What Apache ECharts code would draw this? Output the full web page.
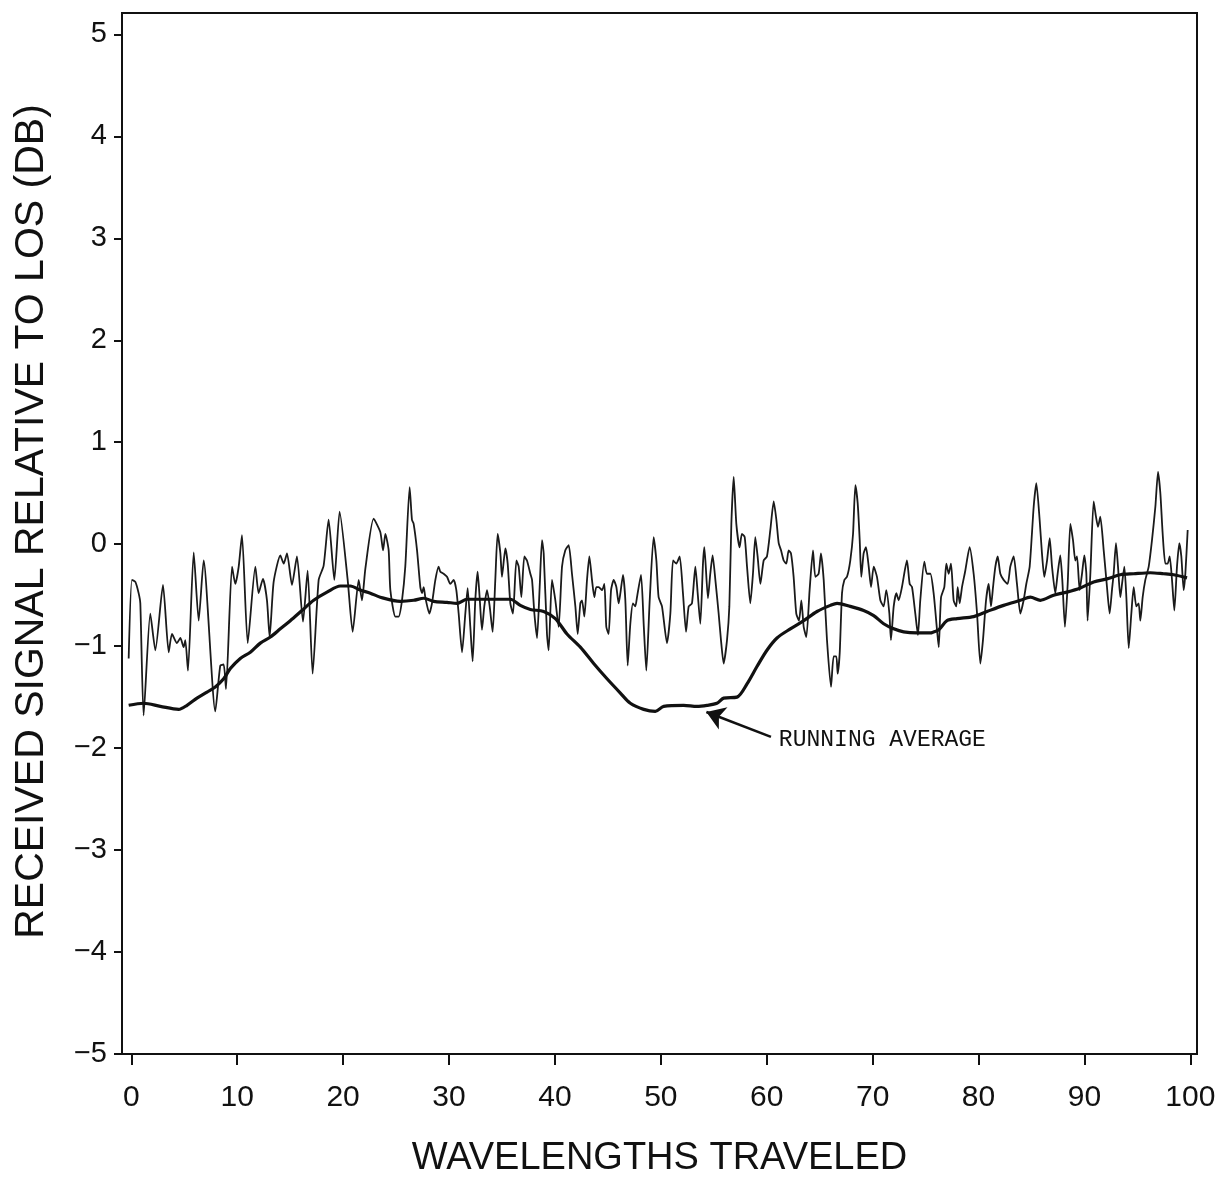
<!DOCTYPE html>
<html>
<head>
<meta charset="utf-8">
<script src="https://cdn.jsdelivr.net/npm/echarts@6/dist/echarts.min.js"></script>
<style>
  html, body { margin: 0; padding: 0; background: #fff; }
  #chart { width: 1226px; height: 1190px; }
</style>
</head>
<body>
<div id="chart"></div>
<script>
// Tick positions on both axes
const xTicks = [0, 10, 20, 30, 40, 50, 60, 70, 80, 90, 100];
const yTicks = [-5, -4, -3, -2, -1, 0, 1, 2, 3, 4, 5];

// Received signal trace (wavelengths traveled, dB relative to LOS)
const traceX = [
  -0.25, 0.06, 0.38, 0.69, 0.85, 1.16, 1.79, 2.27, 2.99, 3.53, 3.84, 4.31, 4.63, 4.94, 5.10, 5.35,
  5.89, 6.36, 6.83, 7.93, 8.40, 8.72, 8.94, 9.51, 9.82, 10.14, 10.45, 10.99, 11.71, 12.02, 12.43,
  12.81, 13.06, 13.44, 14.07, 14.39, 14.70, 15.17, 15.64, 16.21, 16.65, 17.12, 17.69, 18.16, 18.63,
  19.17, 19.67, 20.43, 20.90, 21.47, 21.78, 22.10, 22.88, 23.51, 23.77, 23.99, 24.30, 24.46, 24.93,
  25.24, 25.56, 25.87, 26.28, 26.50, 26.66, 26.98, 27.29, 27.45, 27.61, 27.76, 28.14, 28.39, 28.71,
  29.02, 29.18, 29.49, 29.81, 30.12, 30.44, 30.69, 30.91, 31.23, 31.54, 31.76, 32.01, 32.23, 32.48,
  32.70, 32.89, 33.11, 33.33, 33.59, 33.84, 34.12, 34.37, 34.59, 34.85, 35.00, 35.32, 35.54, 35.79,
  36.04, 36.36, 36.58, 36.83, 37.11, 37.36, 37.68, 37.84, 38.06, 38.31, 38.56, 38.78, 38.94, 39.25,
  39.41, 39.72, 40.04, 40.35, 40.67, 40.98, 41.30, 41.61, 41.93, 42.15, 42.40, 42.56, 42.78, 43.03,
  43.25, 43.50, 43.72, 43.91, 44.13, 44.45, 44.67, 44.85, 45.07, 45.30, 45.55, 45.80, 46.02, 46.18,
  46.43, 46.65, 46.87, 47.12, 47.37, 47.59, 47.75, 48.13, 48.38, 48.63, 48.95, 49.32, 49.58, 49.79,
  50.11, 50.58, 50.90, 51.15, 51.46, 51.78, 52.09, 52.38, 52.63, 52.94, 53.26, 53.48, 53.73, 53.98,
  54.11, 54.45, 54.67, 54.89, 55.15, 55.46, 55.68, 55.93, 56.25, 56.47, 56.66, 56.88, 57.13, 57.44,
  57.66, 57.92, 58.14, 58.45, 58.70, 58.92, 59.14, 59.40, 59.71, 60.02, 60.34, 60.66, 60.91, 61.13,
  61.35, 61.60, 61.85, 62.07, 62.29, 62.54, 62.79, 63.05, 63.27, 63.49, 63.74, 64.05, 64.37, 64.59,
  64.90, 65.12, 65.38, 65.69, 66.07, 66.32, 66.57, 66.70, 66.89, 67.11, 67.33, 67.58, 67.89, 68.15,
  68.37, 68.59, 68.78, 68.93, 69.15, 69.37, 69.63, 69.85, 70.10, 70.41, 70.73, 71.04, 71.29, 71.58,
  71.73, 71.99, 72.24, 72.46, 72.77, 73.24, 73.50, 73.72, 74.03, 74.28, 74.50, 74.88, 75.13, 75.45,
  75.76, 76.08, 76.24, 76.46, 76.77, 76.96, 77.18, 77.40, 77.65, 77.90, 78.03, 78.22, 78.44, 78.75,
  79.16, 79.54, 79.86, 80.17, 80.42, 80.71, 80.96, 81.18, 81.37, 81.59, 81.81, 82.06, 82.37, 82.75,
  83.00, 83.32, 83.63, 83.95, 84.26, 84.51, 84.83, 85.21, 85.46, 85.77, 85.99, 86.21, 86.47, 86.72,
  86.94, 87.25, 87.47, 87.72, 87.91, 88.16, 88.42, 88.67, 88.92, 89.14, 89.30, 89.55, 89.77, 89.99,
  90.18, 90.30, 90.56, 90.87, 91.09, 91.28, 91.50, 91.82, 92.13, 92.38, 92.60, 92.76, 92.98, 93.17,
  93.39, 93.55, 93.77, 93.96, 94.18, 94.43, 94.65, 94.90, 95.12, 95.28, 95.50, 95.75, 96.07, 96.38,
  96.70, 96.95, 97.17, 97.39, 97.64, 97.86, 98.05, 98.27, 98.49, 98.74, 98.96, 99.15, 99.37, 99.53,
  99.75
];
const traceDb = [
  -1.12, -0.35, -0.37, -0.48, -0.58, -1.68, -0.68, -1.04, -0.40, -1.06, -0.88, -0.97, -0.92, -1.01, -0.94, -1.24,
  -0.08, -0.75, -0.16, -1.64, -1.19, -1.18, -1.42, -0.22, -0.39, -0.22, 0.09, -0.97, -0.22, -0.48, -0.34,
  -0.55, -0.91, -0.37, -0.11, -0.19, -0.09, -0.40, -0.12, -0.76, -0.26, -1.27, -0.35, -0.21, 0.24,
  -0.35, 0.32, -0.35, -0.86, -0.35, -0.55, -0.24, 0.25, 0.12, -0.06, 0.10, -0.06, -0.45, -0.71,
  -0.71, -0.55, -0.22, 0.56, 0.24, 0.20, -0.06, -0.42, -0.48, -0.42, -0.52, -0.68, -0.58, -0.35,
  -0.22, -0.27, -0.29, -0.32, -0.39, -0.35, -0.45, -0.68, -1.06, -0.68, -0.43, -0.81, -1.15, -0.55,
  -0.27, -0.52, -0.84, -0.61, -0.45, -0.61, -0.86, -0.35, 0.10, -0.09, -0.32, -0.04, -0.19, -0.58,
  -0.68, -0.16, -0.22, -0.52, -0.12, -0.16, -0.29, -0.35, -0.68, -0.92, -0.42, 0.04, -0.09, -0.88,
  -1.04, -0.35, -0.55, -0.81, -0.22, -0.06, -0.01, -0.29, -0.61, -0.88, -0.58, -0.55, -0.71, -0.35,
  -0.12, -0.35, -0.52, -0.42, -0.42, -0.45, -0.39, -0.81, -0.88, -0.45, -0.35, -0.42, -0.58, -0.48,
  -0.30, -0.55, -1.19, -0.78, -0.58, -0.61, -0.52, -0.30, -0.78, -1.24, -0.55, 0.07, -0.16, -0.52,
  -0.61, -0.97, -0.68, -0.16, -0.19, -0.12, -0.48, -0.86, -0.61, -0.58, -0.22, -0.48, -0.78, -0.19,
  -0.03, -0.53, -0.29, -0.11, -0.35, -0.68, -0.94, -1.17, -0.94, -0.61, 0.20, 0.66, 0.20, -0.03,
  0.10, 0.07, -0.22, -0.58, -0.29, 0.07, -0.12, -0.39, -0.16, -0.12, 0.14, 0.42, 0.24, 0.01,
  -0.06, -0.16, -0.19, -0.06, -0.09, -0.32, -0.68, -0.75, -0.55, -0.81, -0.91, -0.45, -0.06, -0.32,
  -0.29, -0.09, -0.35, -0.94, -1.40, -1.10, -1.10, -1.27, -1.07, -0.48, -0.35, -0.32, -0.16, 0.10,
  0.58, 0.40, 0.04, -0.32, -0.09, -0.03, -0.22, -0.42, -0.22, -0.32, -0.55, -0.61, -0.45, -0.68,
  -0.94, -0.61, -0.48, -0.55, -0.42, -0.16, -0.39, -0.42, -0.68, -0.89, -0.55, -0.17, -0.29, -0.29,
  -0.48, -0.84, -1.01, -0.52, -0.42, -0.19, -0.29, -0.19, -0.55, -0.61, -0.42, -0.58, -0.42, -0.26,
  -0.03, -0.29, -0.68, -1.17, -0.94, -0.55, -0.39, -0.61, -0.42, -0.22, -0.12, -0.29, -0.35, -0.39,
  -0.22, -0.12, -0.39, -0.68, -0.55, -0.39, -0.22, 0.37, 0.60, 0.24, -0.09, -0.32, -0.16, 0.06,
  -0.22, -0.48, -0.29, -0.11, -0.35, -0.81, -0.39, 0.20, 0.04, -0.16, -0.12, -0.45, -0.29, -0.11,
  -0.29, -0.75, -0.29, 0.42, 0.27, 0.17, 0.27, -0.06, -0.42, -0.68, -0.45, -0.29, 0.01, -0.22,
  -0.52, -0.39, -0.22, -0.52, -1.02, -0.68, -0.42, -0.61, -0.58, -0.75, -0.52, -0.35, -0.22, 0.04,
  0.37, 0.71, 0.50, 0.10, -0.19, -0.19, -0.12, -0.35, -0.65, -0.22, 0.01, -0.12, -0.45, -0.29,
  0.14
];

// Running average of the trace
const avgX = [
  -0.25, 1.16, 2.74, 4.47, 5.26, 6.20, 7.15, 7.93, 8.72, 9.35, 10.29, 11.24, 12.18, 13.13, 14.07,
  15.01, 16.11, 17.22, 18.48, 19.74, 20.68, 21.62, 22.57, 23.51, 25.40, 26.66, 27.61, 28.55, 29.81,
  30.75, 31.70, 32.96, 34.22, 35.79, 36.73, 37.68, 38.94, 40.04, 41.14, 42.40, 43.66, 44.92, 46.18,
  47.12, 48.38, 49.48, 50.27, 52.16, 53.41, 54.36, 55.30, 55.93, 57.19, 58.14, 59.08, 60.02, 60.97,
  62.23, 63.49, 64.75, 66.01, 66.64, 67.89, 69.15, 70.10, 71.04, 71.99, 72.93, 74.19, 75.45, 75.76,
  76.24, 77.02, 77.97, 79.54, 80.80, 82.37, 83.95, 84.89, 85.84, 87.09, 88.35, 89.61, 90.87, 92.13,
  93.39, 94.65, 96.22, 97.48, 98.43, 99.69
];
const avgDb = [
  -1.58, -1.56, -1.59, -1.62, -1.58, -1.51, -1.45, -1.40, -1.32, -1.22, -1.12, -1.06, -0.97, -0.91, -0.83,
  -0.75, -0.65, -0.55, -0.47, -0.41, -0.41, -0.45, -0.48, -0.52, -0.56, -0.55, -0.53, -0.56, -0.57,
  -0.58, -0.54, -0.54, -0.54, -0.54, -0.60, -0.64, -0.66, -0.73, -0.88, -1.01, -1.17, -1.32, -1.46,
  -1.56, -1.62, -1.64, -1.59, -1.58, -1.59, -1.58, -1.56, -1.51, -1.50, -1.37, -1.20, -1.04, -0.92,
  -0.83, -0.75, -0.66, -0.60, -0.58, -0.61, -0.65, -0.70, -0.78, -0.83, -0.86, -0.87, -0.87, -0.86,
  -0.84, -0.75, -0.73, -0.71, -0.66, -0.60, -0.55, -0.52, -0.55, -0.50, -0.47, -0.43, -0.37, -0.34,
  -0.30, -0.29, -0.28, -0.29, -0.30, -0.33
];

const INK = '#111';
const SANS = "'Liberation Sans', Arial, sans-serif";

const tracePoints = traceX.map((x, i) => [x, traceDb[i]]);
const avgPoints = avgX.map((x, i) => [x, avgDb[i]]);

const chart = echarts.init(document.getElementById('chart'), null, { renderer: 'canvas' });

chart.setOption({
  animation: false,
  backgroundColor: '#fff',
  grid: {
    left: 122, right: 29, top: 13, bottom: 136,
    show: true, borderColor: INK, borderWidth: 2, backgroundColor: 'transparent'
  },
  xAxis: {
    type: 'value',
    min: -0.88, max: 100.63,
    name: 'WAVELENGTHS TRAVELED',
    nameLocation: 'middle',
    nameGap: 86,
    nameTextStyle: { fontFamily: SANS, fontSize: 38, color: INK },
    axisLine: { show: true, onZero: false, lineStyle: { color: INK, width: 2 } },
    axisTick: { show: true, inside: false, length: 11, customValues: xTicks, lineStyle: { color: INK, width: 2 } },
    axisLabel: { customValues: xTicks, fontFamily: SANS, fontSize: 30, color: INK, margin: 29 },
    splitLine: { show: false }
  },
  yAxis: {
    type: 'value',
    min: -5, max: 5.21,
    name: 'RECEIVED SIGNAL RELATIVE TO LOS (DB)',
    nameLocation: 'middle',
    nameGap: 70,
    nameTextStyle: { fontFamily: SANS, fontSize: 41, color: INK, padding: [0, 0, 0, 24] },
    axisLine: { show: true, onZero: false, lineStyle: { color: INK, width: 2 } },
    axisTick: { show: true, inside: false, length: 8, customValues: yTicks, lineStyle: { color: INK, width: 2 } },
    axisLabel: {
      customValues: yTicks, fontFamily: SANS, fontSize: 29, color: INK, margin: 15,
      padding: [16, 0, 0, 0],
      formatter: v => (v < 0 ? '\u2212' + Math.abs(v) : String(v))
    },
    splitLine: { show: false }
  },
  series: [
    {
      name: 'signal',
      type: 'line',
      data: tracePoints,
      showSymbol: false,
      smooth: 0.2,
      lineStyle: { color: '#1a1a1a', width: 1.8 },
      z: 2
    },
    {
      name: 'running average',
      type: 'line',
      data: avgPoints,
      showSymbol: false,
      smooth: 0.3,
      lineStyle: { color: INK, width: 3.2 },
      z: 3,
      markLine: {
        silent: true,
        symbol: ['none', 'arrow'],
        symbolSize: 18,
        lineStyle: { color: INK, width: 2.6, type: 'solid' },
        itemStyle: { color: INK },
        label: { show: false },
        data: [[
          { coord: [60.4, -1.89], symbol: 'none' },
          { coord: [54.3, -1.645], symbol: 'arrow', symbolSize: 18 }
        ]]
      },
      markPoint: {
        silent: true,
        symbol: 'circle',
        symbolSize: 1,
        itemStyle: { color: 'rgba(0,0,0,0)' },
        label: {
          show: true,
          position: 'right',
          distance: 0,
          formatter: 'RUNNING AVERAGE',
          fontFamily: "'Liberation Mono', 'DejaVu Sans Mono', monospace",
          fontSize: 23,
          color: INK
        },
        data: [{ coord: [61.1, -1.92] }]
      }
    }
  ]
});
</script>
</body>
</html>
